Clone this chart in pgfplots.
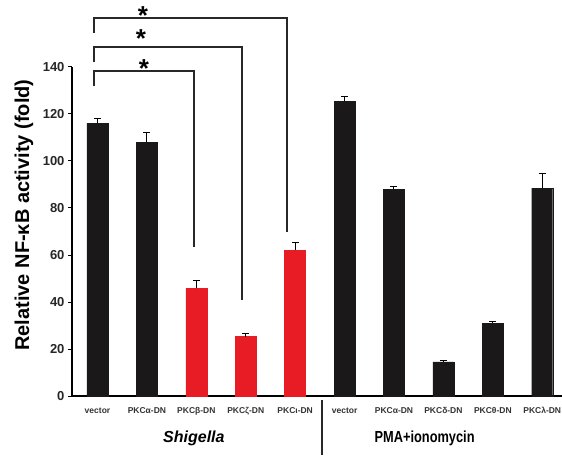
\documentclass[border=0pt]{standalone}
\usepackage{pgfplots}
\pgfplotsset{compat=1.18}
\usepackage{fontspec}
\setmainfont{Liberation Sans}
\definecolor{barblack}{RGB}{26,24,24}
\definecolor{barred}{RGB}{232,28,36}
\definecolor{linegray}{RGB}{40,40,40}
\begin{document}
\begin{tikzpicture}
\useasboundingbox (-72pt,-59pt) rectangle (490pt,396pt);
\begin{axis}[
  at={(0pt,0pt)}, anchor=south west,
  scale only axis, width=490pt, height=329pt,
  xmin=-0.516, xmax=9.40, ymin=0, ymax=140,
  axis x line=bottom, axis y line=left,
  axis line style={line width=1.3pt, -},
  clip=false,
  ytick={0,20,...,140},
  ytick align=outside, ytick pos=left,
  major tick length=4pt,
  y tick style={line width=1pt, black},
  xtick={0,...,9},
  x tick style={draw=none},
  xticklabels={vector,PKCα-DN,PKCβ-DN,PKCζ-DN,PKCι-DN,vector,PKCα-DN,PKCδ-DN,PKCθ-DN,PKCλ-DN},
  xticklabel style={font=\fontsize{8.5}{10}\selectfont\bfseries, text=black!80, yshift=-4pt},
  yticklabel style={font=\fontsize{13}{15}\selectfont\bfseries, text=black!85},
  /pgf/number format/assume math mode=true,
  ylabel={Relative NF-κB activity (fold)},
  ylabel style={font=\fontsize{20}{24}\selectfont\bfseries, at={(axis description cs:-0.098,0.55)}, anchor=center},
  ybar, bar width=21pt,
  error bars/y dir=plus, error bars/y explicit,
  error bars/error bar style={line width=1pt, black},
  error bars/error mark options={rotate=90, mark size=3.5pt, line width=1pt},
]
\addplot[fill=barblack, draw=barblack, bar shift=0pt] coordinates {
  (0,116) +- (0,2.2)
  (1,108) +- (0,4.3)
  (5,125.5) +- (0,1.8)
  (6,88) +- (0,1)
  (7,14.5) +- (0,0.6)
  (8,31) +- (0,0.5)
  (9,88.5) +- (0,6)
};
\addplot[fill=barred, draw=barred, bar shift=0pt] coordinates {
  (2,45.8) +- (0,3.5)
  (3,25.3) +- (0,1.2)
  (4,62) +- (0,3.2)
};
% significance brackets
\draw[linegray, line width=1.6pt] (axis cs:-0.07,154.5) -- (axis cs:-0.07,160.9) -- (axis cs:3.84,160.9) -- (axis cs:3.84,69.8);
\draw[linegray, line width=1.6pt] (axis cs:-0.07,142.1) -- (axis cs:-0.07,148.5) -- (axis cs:2.93,148.5) -- (axis cs:2.93,40.9);
\draw[linegray, line width=1.6pt] (axis cs:-0.07,131.9) -- (axis cs:-0.07,138.3) -- (axis cs:1.95,138.3) -- (axis cs:1.95,63.4);
\node[font=\fontsize{26}{28}\selectfont\bfseries, inner sep=0pt, yshift=-6pt] at (axis cs:0.92,164.3) {*};
\node[font=\fontsize{26}{28}\selectfont\bfseries, inner sep=0pt, yshift=-6pt] at (axis cs:0.88,154.5) {*};
\node[font=\fontsize{26}{28}\selectfont\bfseries, inner sep=0pt, yshift=-6pt] at (axis cs:0.94,141.7) {*};
% group labels
\node[font=\fontsize{16}{18}\selectfont\bfseries\itshape, yshift=-42pt] at (axis cs:1.95,0) {Shigella};
\node[font=\fontsize{16}{18}\selectfont\bfseries, yshift=-42pt] at (axis cs:6.62,0) {\scalebox{0.8}[1]{PMA+ionomycin}};
\draw[linegray, line width=1.5pt] ([yshift=-4pt]axis cs:4.54,0) -- ([yshift=-59pt]axis cs:4.54,0);
\end{axis}
\end{tikzpicture}
\end{document}
